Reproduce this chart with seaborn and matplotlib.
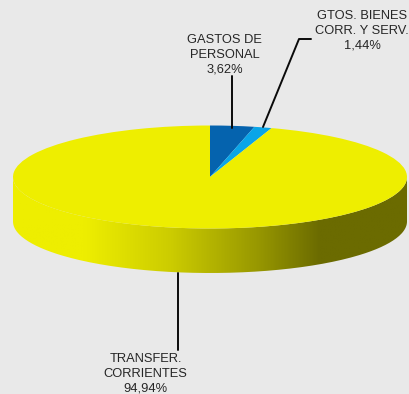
import numpy as np
import matplotlib
matplotlib.use("Agg")
import matplotlib.pyplot as plt
from matplotlib.colors import LinearSegmentedColormap
from matplotlib.patches import PathPatch
from matplotlib.path import Path
import seaborn as sns

categories = ["GASTOS DE\nPERSONAL", "GTOS. BIENES\nCORR. Y SERV.", "TRANSFER.\nCORRIENTES"]
shares = [3.62, 1.44, 94.94]
colors = ["#0563AE", "#0AA5E8", "#EEEE00"]
BG = "#E9E9E9"

sns.set_theme(style="white")
plt.rcParams["font.family"] = ["Liberation Sans", "DejaVu Sans"]

W, H = 410, 394
CX, CY, RX, RY, DEPTH = 210, 177, 197, 51.5, 44.5

fig = plt.figure(figsize=(W / 100, H / 100), dpi=100, facecolor=BG)
ax = fig.add_axes([0, 0, 1, 1])

def fx(x):
    return x / W
def fy(y):
    return 1 - y / H

# extruded side of the disc
t = np.linspace(np.pi, 2 * np.pi, 200)
xs = np.cos(t)
ys = np.sin(t)
d = DEPTH / RY
vx = np.r_[xs, xs[::-1], xs[0]]
vy = np.r_[ys - d, ys[::-1], ys[0] - d]
side = PathPatch(Path(np.c_[vx, vy]), fc="none", ec="none")
ax.add_patch(side)
cmap = LinearSegmentedColormap.from_list("side", [
    (0.00, "#EEEE00"), (0.18, "#EEEE00"), (0.40, "#CCCC00"),
    (0.62, "#989800"), (0.78, "#6B6B00"), (1.00, "#6B6B00")])
img = ax.imshow(np.linspace(0, 1, 256)[None, :], cmap=cmap, aspect="auto",
                extent=(-1, 1, -1 - d, 0), zorder=1)
img.set_clip_path(side)

# top of the disc
ax.pie(shares, colors=colors, startangle=90, counterclock=False, radius=1,
       center=(0, 0), wedgeprops=dict(linewidth=0, zorder=2))
for w in ax.patches:
    w.set_zorder(2)
side.set_zorder(0)

ax.set_aspect("auto")
ax.set_xlim(-CX / RX, (W - CX) / RX)
ax.set_ylim(-(H - CY) / RY, CY / RY)
ax.axis("off")

# leader lines
leaders = [([232, 232], [76, 128]),
           ([263, 299, 311], [127, 39, 39]),
           ([178.5, 178.5], [273, 350])]
for lx, ly in leaders:
    fig.add_artist(plt.Line2D([fx(v) for v in lx], [fy(v) for v in ly],
                              color="#0A0A0A", lw=1.4, zorder=5))

# labels
def fmt(v):
    return f"{v:.2f}".replace(".", ",") + "%"
anchors = [(224.5, 55), (362, 31), (145.5, 374)]
for name, v, (x, y) in zip(categories, shares, anchors):
    fig.text(fx(x), fy(y), f"{name}\n{fmt(v)}", ha="center", va="center",
             fontsize=9.3, color="#262626", linespacing=1.32)

fig.savefig("out.png", dpi=100, facecolor=BG)
